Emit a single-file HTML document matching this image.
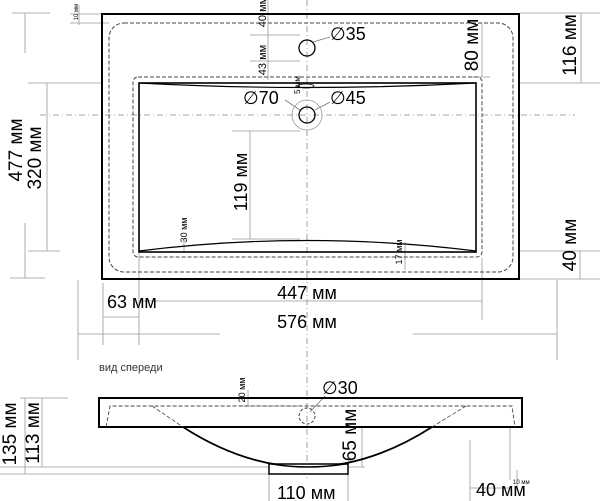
<!DOCTYPE html>
<html><head><meta charset="utf-8"><style>
html,body{margin:0;padding:0;background:#fff;}
svg{display:block;font-family:"Liberation Sans",Arial,sans-serif;}
</style></head><body>
<svg width="600" height="501" viewBox="0 0 600 501" xmlns="http://www.w3.org/2000/svg">
<g fill="none" stroke="#999" stroke-width="0.8">
<line x1="307" y1="0" x2="307" y2="480" stroke="#888" stroke-dasharray="6,3,1,3"/>
<line x1="40" y1="115" x2="575" y2="115" stroke="#888" stroke-dasharray="6,3,1,3"/>
<line x1="12" y1="13" x2="50" y2="13"/><line x1="25" y1="13" x2="25" y2="53"/>
<line x1="10" y1="278" x2="45" y2="278"/><line x1="25" y1="223" x2="25" y2="278"/>
<line x1="28" y1="83" x2="102" y2="83"/><line x1="47" y1="83" x2="47" y2="251"/>
<line x1="28" y1="251" x2="60" y2="251"/>
<line x1="70" y1="14" x2="102" y2="14"/><line x1="70" y1="23" x2="109" y2="23"/><line x1="79" y1="5" x2="79" y2="25"/>
<line x1="520" y1="13" x2="600" y2="13"/><line x1="520" y1="83" x2="600" y2="83"/><line x1="581" y1="13" x2="581" y2="83"/>
<line x1="482" y1="23" x2="482" y2="77"/><line x1="470" y1="77" x2="490" y2="77"/>
<line x1="520" y1="251" x2="600" y2="251"/><line x1="520" y1="279" x2="600" y2="279"/><line x1="580" y1="251" x2="580" y2="279"/>
<line x1="250" y1="35" x2="300" y2="35"/><line x1="250" y1="61" x2="300" y2="61"/><line x1="268" y1="0" x2="268" y2="80"/>
<line x1="232" y1="131" x2="300" y2="131"/><line x1="232" y1="239" x2="300" y2="239"/><line x1="250" y1="131" x2="250" y2="239"/>
<line x1="184" y1="240" x2="184" y2="252"/><line x1="405" y1="242" x2="405" y2="270"/>
<line x1="103" y1="283" x2="103" y2="345"/><line x1="139" y1="252" x2="139" y2="345"/>
<line x1="103" y1="317" x2="139" y2="317"/>
<line x1="139" y1="301" x2="482" y2="301"/><line x1="482" y1="258" x2="482" y2="320"/>
<line x1="78" y1="334" x2="220" y2="334"/><line x1="413" y1="334" x2="557" y2="334"/>
<line x1="78" y1="280" x2="78" y2="360"/><line x1="557" y1="280" x2="557" y2="360"/>
<line x1="20" y1="398" x2="68" y2="398"/><line x1="0" y1="467" x2="270" y2="467"/><line x1="0" y1="474" x2="270" y2="474"/>
<line x1="25" y1="398" x2="25" y2="474"/><line x1="42" y1="398" x2="42" y2="467"/>
<line x1="348" y1="467" x2="365" y2="467"/><line x1="362" y1="427" x2="362" y2="467"/>
<line x1="269" y1="474" x2="269" y2="501"/><line x1="348" y1="474" x2="348" y2="501"/>
<line x1="470" y1="440" x2="470" y2="501"/><line x1="510" y1="427" x2="510" y2="480"/>
<line x1="510" y1="488" x2="470" y2="488"/>
<line x1="517" y1="470" x2="517" y2="490"/>
<line x1="240" y1="406" x2="300" y2="406"/><line x1="248" y1="390" x2="248" y2="406"/>
<line x1="313" y1="42" x2="330" y2="37" stroke="#777"/>
<line x1="315" y1="110" x2="330" y2="102" stroke="#777"/>
<line x1="285" y1="100" x2="300" y2="110" stroke="#777"/>
<line x1="310" y1="412" x2="325" y2="396" stroke="#777"/>
</g>
<rect x="102" y="14" width="417" height="265" fill="none" stroke="#000" stroke-width="2"/>
<rect x="109" y="23" width="404" height="249" rx="15" fill="none" stroke="#444" stroke-width="1" stroke-dasharray="4,2"/>
<rect x="133" y="77" width="349" height="180" rx="5" fill="none" stroke="#444" stroke-width="1" stroke-dasharray="4,2"/>
<rect x="139" y="83" width="337" height="169" fill="none" stroke="#000" stroke-width="1.6"/>
<path d="M139 83 Q307 92 476 83" fill="none" stroke="#000" stroke-width="1.2"/>
<path d="M139 251 Q307 230 476 251" fill="none" stroke="#000" stroke-width="1.2"/>
<circle cx="307" cy="48" r="8" fill="none" stroke="#000" stroke-width="1.3"/>
<circle cx="307" cy="115" r="15" fill="none" stroke="#999" stroke-width="0.8"/>
<circle cx="307" cy="115" r="8" fill="none" stroke="#000" stroke-width="1.3"/>
<ellipse cx="306" cy="86" rx="8" ry="2" fill="none" stroke="#000" stroke-width="0.8"/>
<rect x="99" y="398" width="423" height="29" fill="none" stroke="#000" stroke-width="2"/>
<path d="M106 427 L110 406 L512 406 L515 427" fill="none" stroke="#444" stroke-dasharray="4,2" stroke-width="0.9"/>
<path d="M152 406 L183 427 M466 406 L432 427" fill="none" stroke="#444" stroke-dasharray="4,2" stroke-width="0.8"/>
<path d="M183 427 Q307 507 432 427" fill="none" stroke="#000" stroke-width="1.8"/>
<rect x="269" y="464" width="79" height="10" fill="#fff" stroke="#000" stroke-width="1.5"/>
<path d="M272 464 Q307 470 345 464" fill="none" stroke="#000" stroke-width="1.5"/>
<circle cx="307" cy="416" r="8" fill="none" stroke="#444" stroke-dasharray="3,2"/>
<g fill="#000" font-size="17">
<text transform="translate(22,150) rotate(-90)" text-anchor="middle" font-size="19">477 мм</text>
<text transform="translate(41,158) rotate(-90)" text-anchor="middle" font-size="19">320 мм</text>
<text transform="translate(247,182) rotate(-90)" text-anchor="middle" font-size="18">119 мм</text>
<text transform="translate(266,60) rotate(-90)" text-anchor="middle" font-size="11">43 мм</text>
<text transform="translate(266,12) rotate(-90)" text-anchor="middle" font-size="11">40 мм</text>
<text transform="translate(300,85) rotate(-90)" text-anchor="middle" font-size="8">5 мм</text>
<text transform="translate(78,12) rotate(-90)" text-anchor="middle" font-size="6">10 мм</text>
<text transform="translate(478,45) rotate(-90)" text-anchor="middle" font-size="19">80 мм</text>
<text transform="translate(576,45) rotate(-90)" text-anchor="middle" font-size="19">116 мм</text>
<text transform="translate(576,245) rotate(-90)" text-anchor="middle" font-size="19">40 мм</text>
<text transform="translate(187,230) rotate(-90)" text-anchor="middle" font-size="9">30 мм</text>
<text transform="translate(402,252) rotate(-90)" text-anchor="middle" font-size="9">17 мм</text>
<text x="330" y="40" font-size="18">∅35</text>
<text x="330" y="104" font-size="18">∅45</text>
<text x="243" y="104" font-size="18">∅70</text>
<text x="307" y="299" text-anchor="middle" font-size="18">447 мм</text>
<text x="307" y="328" text-anchor="middle" font-size="18">576 мм</text>
<text x="107" y="308" font-size="18">63 мм</text>
<text x="99" y="371" font-size="11" fill="#333">вид спереди</text>
<text transform="translate(245,390) rotate(-90)" text-anchor="middle" font-size="9">20 мм</text>
<text x="322" y="394" font-size="18">∅30</text>
<text transform="translate(16,434) rotate(-90)" text-anchor="middle" font-size="19">135 мм</text>
<text transform="translate(39,433) rotate(-90)" text-anchor="middle" font-size="19">113 мм</text>
<text transform="translate(356,435) rotate(-90)" text-anchor="middle" font-size="19">65 мм</text>
<text x="277" y="499" font-size="18">110 мм</text>
<text x="476" y="496" font-size="18">40 мм</text>
<text x="513" y="484" font-size="6">10 мм</text>
</g>
</svg>
</body></html>
